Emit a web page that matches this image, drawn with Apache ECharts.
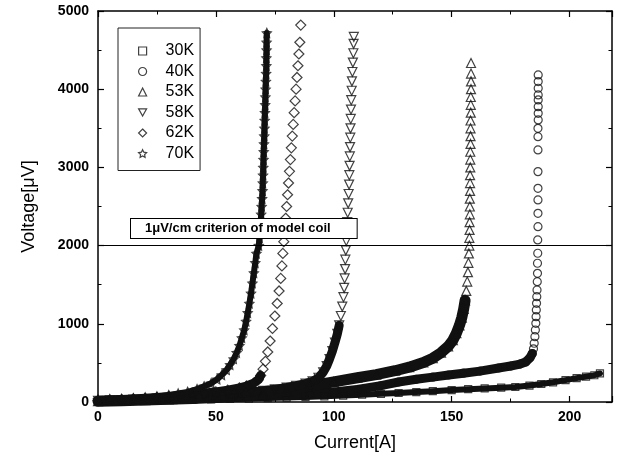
<html>
<head>
<meta charset="UTF-8">
<title>V-I curves</title>
<script src="https://cdn.jsdelivr.net/npm/echarts@6/dist/echarts.min.js"></script>
<style>
    body { margin: 0; padding: 0; background: #fff; }
    #echart { width: 619px; height: 462px; }
</style>
</head>
<body>
<div id="echart"></div>
<script>
    // [current A, voltage uV]
    const k30 = [[0,5],[8,10],[16,15],[24,20],[32,25],[40,29],[48,34],[56,39],[64,44],[72,50],[80,57],[88,64],[96,72],[104,82],[112,93],[120,104],[127.5,115],[135,127],[142,139],[150,153],[157,164],[164,174],[171,183],[177,192],[183,210],[188,230],[193,252],[198.3,280],[203,305],[207,325],[210.5,342],[212.9,365]];
    const k40 = [[0,10],[10,17],[20,25],[30,33],[40,42],[50,52],[60,62],[70,74],[80,88],[90,105],[100,128],[110,160],[120,210],[127.5,256],[135,290],[142,318],[148.7,345],[155,368],[162,395],[169.9,435],[175,460],[179,485],[181.4,512],[183.2,565],[184.2,620],[184.7,680],[185,751],[185.3,835],[185.5,921],[185.7,1006],[185.8,1091],[185.9,1177],[186,1262],[186.1,1347],[186.2,1432],[186.3,1539],[186.4,1646],[186.4,1774],[186.5,1902],[186.5,2072],[186.6,2242],[186.6,2413],[186.6,2584],[186.6,2733],[186.6,2946],[186.6,3223],[186.6,3393],[186.6,3500],[186.7,3607],[186.7,3692],[186.7,3777],[186.7,3863],[186.7,3927],[186.7,4012],[186.7,4097],[186.7,4182]];
    const k53 = [[0,10],[10,17],[20,25],[30,34],[40,45],[50,58],[60,75],[70,100],[80,140],[90,205],[100,258],[110,310],[118,350],[126,400],[132,445],[138,505],[142,560],[145.5,630],[148.5,710],[150.5,790],[152,880],[153.3,980],[154.3,1080],[155.1,1190],[155.7,1300],[156.2,1420],[156.6,1540],[156.9,1660],[157.1,1780],[157.3,1900],[157.5,2000],[157.5,2100],[157.6,2200],[157.6,2300],[157.7,2400],[157.7,2500],[157.7,2600],[157.8,2700],[157.8,2800],[157.8,2900],[157.9,3000],[157.9,3100],[157.9,3200],[158,3300],[158,3400],[158,3500],[158,3600],[158.1,3700],[158.1,3800],[158.1,3900],[158.2,4000],[158.2,4100],[158.2,4200],[158.2,4335]];
    const k58 = [[0,15],[5,20],[10,25],[15,30],[20,36],[25,43],[30,50],[35,58],[40,67],[45,77],[50,88],[55,100],[60,113],[65,127],[70,143],[75,162],[80,185],[84,208],[88,235],[91,265],[93.5,310],[95.5,380],[97,460],[98.2,550],[99.4,650],[100.5,760],[101.5,870],[102.3,980],[103,1100],[103.6,1220],[104.1,1340],[104.4,1460],[104.6,1580],[104.8,1700],[104.9,1820],[105.1,1940],[105.3,2060],[105.5,2180],[105.7,2300],[105.9,2420],[106.1,2540],[106.3,2660],[106.5,2780],[106.6,2900],[106.7,3020],[106.8,3140],[106.9,3260],[107,3380],[107.1,3500],[107.2,3620],[107.3,3740],[107.4,3860],[107.6,3980],[107.7,4100],[107.9,4220],[108.1,4340],[108.3,4460],[108.4,4580],[108.5,4668]];
    const k62 = [[0,20],[5,25],[10,32],[15,40],[20,48],[25,58],[30,70],[35,82],[40,96],[45,112],[50,130],[55,152],[60,180],[63,205],[66,240],[68,285],[69,340],[70,420],[71,520],[72,640],[73,780],[74,940],[75,1100],[76,1260],[76.8,1420],[77.5,1580],[78,1740],[78.4,1900],[78.8,2050],[79.2,2200],[79.6,2350],[80,2500],[80.4,2650],[80.8,2800],[81.2,2950],[81.6,3100],[82,3250],[82.4,3400],[82.8,3550],[83.2,3700],[83.6,3850],[84,4000],[84.4,4150],[84.8,4300],[85.2,4450],[85.6,4600],[86,4820]];
    const k70 = [[0,30],[5,35],[10,40],[15,48],[20,57],[25,70],[30,88],[34,108],[38,130],[42,165],[45,200],[48,240],[50.5,290],[52.5,345],[54.5,410],[56,475],[57.5,550],[58.8,630],[60,720],[61,820],[62,920],[62.8,1030],[63.5,1140],[64.2,1260],[64.9,1390],[65.5,1520],[66.1,1650],[66.7,1780],[67.2,1900],[68.2,2000],[68.5,2100],[68.8,2200],[69,2300],[69.2,2400],[69.4,2500],[69.6,2600],[69.8,2700],[69.9,2800],[70,2900],[70.1,3000],[70.2,3100],[70.3,3200],[70.4,3300],[70.5,3400],[70.6,3500],[70.7,3600],[70.8,3700],[70.9,3800],[71,3900],[71.1,4000],[71.2,4100],[71.3,4200],[71.4,4300],[71.4,4400],[71.5,4500],[71.5,4600],[71.6,4720]];

    const curveNames = ['30K', '40K', '53K', '58K', '62K', '70K'];
    const criterionLevel = 2000;
    const criterionText = '1\u03bcV/cm criterion of model coil';

    const font = '"Liberation Sans", Arial, sans-serif';
    const starPath = 'path://M0,-10L2.9,-4L9.5,-3.1L4.8,1.5L5.9,8.1L0,5L-5.9,8.1L-4.8,1.5L-9.5,-3.1L-2.9,-4Z';
    const downTriPath = 'path://M0,0L10,0L5,9Z';

    // marker look; "band" is how thick the packed points look where they run together
    const looks = [
        {symbol: 'rect', size: 7, band: 6, bandTop: 5000},
        {symbol: 'circle', size: 8, band: 9, bandTop: 620},
        {symbol: 'triangle', size: 9, band: 11, bandTop: 1300},
        {symbol: downTriPath, size: 9, band: 9, bandTop: 1000},
        {symbol: 'diamond', size: 10, band: 9, bandTop: 350},
        {symbol: starPath, size: 9, band: 6, bandTop: 5000}
    ];
    const curves = [k30, k40, k53, k58, k62, k70];

    function buildOption() {
        let series = [];
        curves.forEach((pts, i) => {
            series.push({
                type: 'line',
                name: curveNames[i] + ' band',
                data: pts.filter(p => p[1] <= looks[i].bandTop),
                symbol: 'none',
                silent: true,
                z: 2,
                lineStyle: {color: '#111', width: looks[i].band, cap: 'round', join: 'round'}
            });
        });
        curves.forEach((pts, i) => {
            let s = {
                type: 'scatter',
                name: curveNames[i],
                data: pts,
                symbol: looks[i].symbol,
                symbolSize: looks[i].size,
                z: 3,
                itemStyle: {color: 'rgba(0,0,0,0)', borderColor: '#111', borderWidth: 1.2}
            };
            if (i === 0) {
                s.markLine = {
                    silent: true,
                    symbol: 'none',
                    label: {show: false},
                    lineStyle: {color: '#000', width: 1.2, type: 'solid'},
                    data: [{yAxis: criterionLevel}]
                };
            }
            series.push(s);
        });

        let tick = {inside: true, length: 6, lineStyle: {color: '#000', width: 1.2}};
        let minor = {show: true, splitNumber: 2, length: 3.5, lineStyle: {color: '#000', width: 1}};
        let line = {onZero: false, lineStyle: {color: '#000', width: 1.5}};
        let label = {color: '#000', fontSize: 14, fontWeight: 'bold', fontFamily: font, formatter: v => String(v)};

        return {
            animation: false,
            backgroundColor: '#fff',
            grid: {left: 98, right: 7, top: 11, bottom: 60},
            legend: {
                data: curveNames,
                orient: 'vertical',
                left: 118,
                top: 28,
                padding: [15, 6, 9, 20],
                itemWidth: 8,
                itemHeight: 8,
                itemGap: 4.5,
                borderColor: '#222',
                borderWidth: 1,
                selectedMode: false,
                itemStyle: {color: 'rgba(0,0,0,0)', borderColor: '#111', borderWidth: 1.2},
                textStyle: {color: '#000', fontSize: 16, fontFamily: font, padding: [0, 0, 0, 14]}
            },
            xAxis: [
                {
                    type: 'value', min: 0, max: 218, interval: 50,
                    name: 'Current[A]', nameLocation: 'middle', nameGap: 32,
                    nameTextStyle: {color: '#000', fontSize: 18, fontFamily: font},
                    axisLine: line, axisTick: tick, minorTick: minor,
                    axisLabel: Object.assign({margin: 8, showMaxLabel: false}, label),
                    splitLine: {show: false}
                },
                {
                    type: 'value', min: 0, max: 218, interval: 50, position: 'top',
                    axisLine: line, axisTick: tick, minorTick: minor,
                    axisLabel: {show: false}, splitLine: {show: false}
                }
            ],
            yAxis: [
                {
                    type: 'value', min: 0, max: 5000, interval: 1000,
                    name: 'Voltage[\u03bcV]', nameLocation: 'middle', nameGap: 60,
                    nameTextStyle: {color: '#000', fontSize: 18, fontFamily: font},
                    axisLine: line, axisTick: tick, minorTick: minor,
                    axisLabel: Object.assign({margin: 9}, label),
                    splitLine: {show: false}
                },
                {
                    type: 'value', min: 0, max: 5000, interval: 1000, position: 'right',
                    axisLine: line, axisTick: tick, minorTick: minor,
                    axisLabel: {show: false}, splitLine: {show: false}
                }
            ],
            graphic: [{
                type: 'text',
                left: 130,
                top: 218,
                z: 10,
                style: {
                    text: criterionText,
                    font: 'bold 13px ' + font,
                    fill: '#000',
                    backgroundColor: '#fff',
                    borderColor: '#000',
                    borderWidth: 1,
                    padding: [3, 26, 3, 14]
                }
            }],
            series: series
        };
    }

    window.onload = function () {
        let ec = echarts.init(document.getElementById('echart'));
        ec.setOption(buildOption(), true);
    };
</script>
</body>
</html>
